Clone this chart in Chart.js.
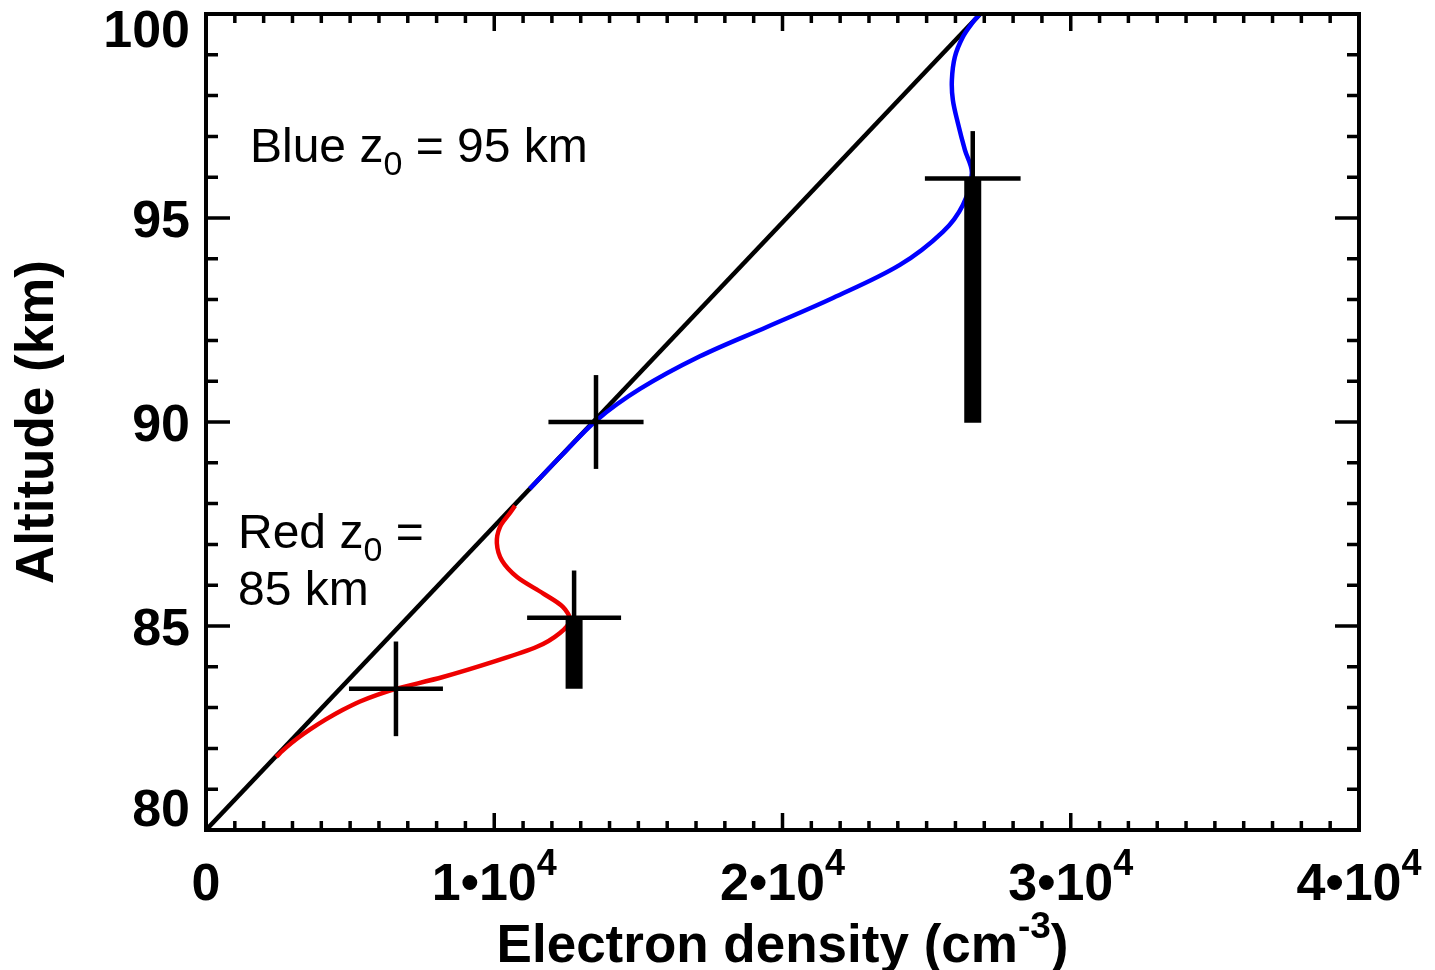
<!DOCTYPE html>
<html>
<head>
<meta charset="utf-8">
<title>Electron density profiles</title>
<script src="https://cdn.jsdelivr.net/npm/chart.js@4.4.1/dist/chart.umd.min.js"></script>
<style>
  html, body { margin: 0; padding: 0; background: #fff; }
  #wrap { width: 1435px; height: 970px; }
</style>
</head>
<body>
<div id="wrap"><canvas id="profileChart" width="1435" height="970"></canvas></div>
<script>
// axis ticks
const densityTicks = [0, 10000, 20000, 30000, 40000];
const densityTickLabels = ['0', '1•10^4', '2•10^4', '3•10^4', '4•10^4'];
const altitudeTicks = [80, 85, 90, 95, 100];
const altitudeTickLabels = ['80', '85', '90', '95', '100'];

// background (undisturbed) profile
const bgDensity = [0, 26860];
const bgAltitude = [80, 100];

// layer with z0 = 85 km
const redDensity = [2428, 2747, 3153, 3625, 4158, 4734, 5342, 5963, 6590, 8220, 9955, 11480, 12280, 12625, 12380, 11690, 10790, 10270, 10090, 10200, 10545, 10720];
const redAltitude = [81.79, 82.0, 82.235, 82.47, 82.71, 82.94, 83.15, 83.32, 83.46, 83.75, 84.12, 84.49, 84.83, 85.15, 85.47, 85.8, 86.2, 86.6, 87.03, 87.43, 87.77, 87.95];

// layer with z0 = 95 km
const blueDensity = [11229, 12348, 13562, 15054, 17135, 19459, 21748, 24072, 25564, 26258, 26570, 26327, 26084, 25911, 25876, 25980, 26258, 26604, 26847];
const blueAltitude = [88.36, 89.19, 90.05, 90.81, 91.61, 92.33, 93.04, 93.85, 94.66, 95.32, 96.1, 96.67, 97.33, 97.89, 98.38, 98.95, 99.44, 99.8, 100];

// measurements with error bars
const crossDensity = [6590, 12770, 13530, 26600];
const crossAltitude = [83.46, 85.2, 90.0, 95.97];
const densityErr = [1630, 1630, 1650, 1660];
const altitudeErr = [1.16, 1.16, 1.15, 1.16];

// thick lower bars under two of the measurements
const barDensity = [12770, 26600];
const barTop = [85.2, 95.97];
const barBottom = [83.46, 89.98];

const FONT = '"Liberation Sans", Arial, Helvetica, sans-serif';

const seg = (pts, width, order) => ({
  data: pts,
  showLine: true,
  borderColor: '#000',
  borderWidth: width,
  borderCapStyle: 'butt',
  pointRadius: 0,
  tension: 0,
  order: order
});

const errorSets = [];
crossDensity.forEach((d, i) => {
  const z = crossAltitude[i];
  errorSets.push(seg([{x: d - densityErr[i], y: z}, {x: d + densityErr[i], y: z}], 4.5, 0));
  errorSets.push(seg([{x: d, y: z - altitudeErr[i]}, {x: d, y: z + altitudeErr[i]}], 4.5, 0));
});
barDensity.forEach((d, i) => {
  errorSets.push(seg([{x: d, y: barBottom[i]}, {x: d, y: barTop[i]}], 17, 1));
});

const toPoints = (xs, ys) => xs.map((v, i) => ({x: v, y: ys[i]}));

// draws text with ^sup and _sub parts; align 'left' or 'center'
function richText(ctx, str, x, y, size, weight, align, supShift, subShift) {
  const parts = [];
  const re = /([\^_])(\S)/g;
  let last = 0, m;
  while ((m = re.exec(str)) !== null) {
    if (m.index > last) parts.push({t: str.slice(last, m.index), k: ''});
    parts.push({t: m[2], k: m[1]});
    last = re.lastIndex;
  }
  if (last < str.length) parts.push({t: str.slice(last), k: ''});
  const small = Math.round(size * 0.7);
  let total = 0;
  parts.forEach(p => {
    ctx.font = `${weight} ${p.k ? small : size}px ${FONT}`;
    p.w = ctx.measureText(p.t).width;
    total += p.w;
  });
  let cx = align === 'center' ? x - total / 2 : x;
  ctx.textAlign = 'left';
  ctx.textBaseline = 'alphabetic';
  parts.forEach(p => {
    ctx.font = `${weight} ${p.k ? small : size}px ${FONT}`;
    const dy = p.k === '^' ? -supShift : p.k === '_' ? subShift : 0;
    ctx.fillText(p.t, cx, y + dy);
    cx += p.w;
  });
}

const frameAndLabels = {
  id: 'frameAndLabels',
  afterDatasetsDraw(chart) {
    const {ctx, chartArea: a, scales: {x, y}} = chart;
    ctx.save();
    ctx.strokeStyle = '#000';
    ctx.fillStyle = '#000';

    // inward ticks on all four sides
    ctx.lineWidth = 3.5;
    ctx.beginPath();
    for (let i = 0; i <= 40; i++) {
      const px = x.getPixelForValue(i * 1000);
      const len = i % 10 === 0 ? 17 : 9;
      ctx.moveTo(px, a.bottom); ctx.lineTo(px, a.bottom - len);
      ctx.moveTo(px, a.top); ctx.lineTo(px, a.top + len);
    }
    for (let z = 80; z <= 100; z++) {
      const py = y.getPixelForValue(z);
      const len = z % 5 === 0 ? 24 : 12;
      ctx.moveTo(a.left, py); ctx.lineTo(a.left + len, py);
      ctx.moveTo(a.right, py); ctx.lineTo(a.right - len, py);
    }
    ctx.stroke();

    ctx.lineWidth = 4;
    ctx.strokeRect(a.left, a.top, a.right - a.left, a.bottom - a.top);

    // tick labels
    densityTicks.forEach((v, i) => {
      richText(ctx, densityTickLabels[i], x.getPixelForValue(v), a.bottom + 70, 52, 'bold', 'center', 25, 0);
    });
    ctx.font = `bold 52px ${FONT}`;
    ctx.textAlign = 'right';
    ctx.textBaseline = 'alphabetic';
    altitudeTicks.forEach((v, i) => {
      let base = y.getPixelForValue(v) + 18.5;
      base = Math.max(base, a.top + 33);
      base = Math.min(base, a.bottom - 4);
      ctx.fillText(altitudeTickLabels[i], a.left - 16, base);
    });

    // curve labels
    richText(ctx, 'Blue z_0 = 95 km', x.getPixelForValue(1526), y.getPixelForValue(96.37), 48, 'normal', 'left', 0, 13);
    richText(ctx, 'Red z_0 =', x.getPixelForValue(1110), y.getPixelForValue(86.91), 48, 'normal', 'left', 0, 13);
    richText(ctx, '85 km', x.getPixelForValue(1110), y.getPixelForValue(85.51), 48, 'normal', 'left', 0, 13);

    // x axis title with superscript
    richText(ctx, 'Electron density (cm^-^3)', (a.left + a.right) / 2, 962, 53, 'bold', 'center', 24, 0);
    ctx.restore();
  }
};

const ctx = document.getElementById('profileChart').getContext('2d');
const profileChart = new Chart(ctx, {
  type: 'scatter',
  data: {
    datasets: [
      ...errorSets,
      {
        label: 'Blue z0 = 95 km',
        data: toPoints(blueDensity, blueAltitude),
        showLine: true,
        borderColor: '#0000ff',
        borderWidth: 4.5,
        pointRadius: 0,
        tension: 0.35,
        order: 2
      },
      {
        label: 'Red z0 = 85 km',
        data: toPoints(redDensity, redAltitude),
        showLine: true,
        borderColor: '#ee0000',
        borderWidth: 4.5,
        pointRadius: 0,
        tension: 0.3,
        order: 3
      },
      {
        label: 'Background',
        data: toPoints(bgDensity, bgAltitude),
        showLine: true,
        borderColor: '#000',
        borderWidth: 4.5,
        pointRadius: 0,
        tension: 0,
        order: 4
      }
    ]
  },
  options: {
    responsive: false,
    animation: false,
    devicePixelRatio: 1,
    layout: { padding: { left: 0, top: 14, right: 76, bottom: 0 } },
    plugins: {
      legend: { display: false },
      tooltip: { enabled: false }
    },
    scales: {
      x: {
        type: 'linear',
        min: 0,
        max: 40000,
        ticks: { display: false, stepSize: 10000 },
        grid: { display: false },
        border: { display: false },
        afterFit: scale => { scale.height = 140; }
      },
      y: {
        type: 'linear',
        min: 80,
        max: 100,
        ticks: { display: false, stepSize: 5 },
        grid: { display: false },
        border: { display: false },
        title: {
          display: true,
          text: 'Altitude (km)',
          color: '#000',
          font: { family: FONT, size: 53, weight: 'bold', lineHeight: 1 },
          padding: { top: 12, bottom: 0 }
        },
        afterFit: scale => { scale.width = 206; }
      }
    }
  },
  plugins: [frameAndLabels]
});
</script>
</body>
</html>
